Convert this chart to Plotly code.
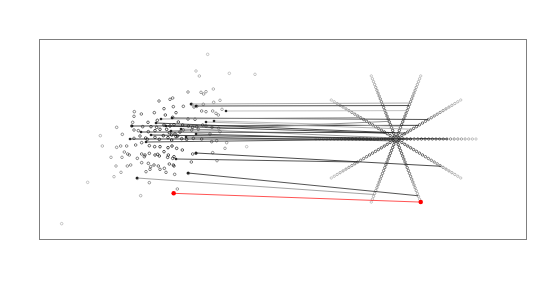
import numpy as np
import plotly.graph_objects as go

# Units: horizontal 0..1458 across the frame, vertical 0..597 top to bottom
cloud_x = [503,468,478,568,645,444,483,491,498,520,357,390,398,540,521,490,455,462,470,400,430,283,304,343,372,408,282,376,352,398,
           415,444,465,485,498,518,528,535,546,278,324,275,308,333,350,372,390,402,428,445,458,470,488,498,516,536,230,247,181,282,
           295,325,345,360,380,388,395,405,413,420,430,455,475,510,540,282,300,322,317,345,358,370,384,395,408,425,440,460,485,515,
           530,560,620,187,230,242,260,287,305,328,344,360,384,396,410,427,458,468,518,555,213,246,253,263,268,292,305,315,328,313,
           345,353,358,372,385,383,398,402,454,531,228,262,272,305,325,332,342,355,373,388,400,402,222,243,318,330,360,378,404,445,
           292,328,143,412,302,65]
cloud_y = [43,93,108,100,103,156,157,162,155,147,183,178,174,181,187,193,193,201,199,200,199,215,222,218,206,218,229,225,241,232,
           246,237,238,213,215,213,220,225,208,247,247,258,260,260,262,255,258,254,255,258,262,260,255,258,262,265,262,283,287,270,
           272,275,272,268,268,278,285,282,288,276,270,270,268,282,275,295,288,298,294,292,298,287,293,300,290,296,298,295,297,305,
           302,308,320,318,322,318,318,315,308,317,320,320,323,318,325,330,342,340,338,325,352,352,336,342,345,355,342,345,340,350,
           345,343,348,335,345,352,355,350,366,362,378,378,375,368,370,380,375,378,385,372,375,378,410,397,395,388,388,397,403,400,
           415,428,427,447,467,551]

star_center = (1068, 297)
star_radius_x = 240
star_radius_y = 199
arm_angles_deg = [0, 36, 72, 108, 144, 180, 216, 252, 288, 324]
arm_steps = np.linspace(0.045, 1.0, 22)

link_start_x = [453,468,396,276,393,363,498,333,423,378,303,438,522,348,468,270,408,468,444,291,318,558,401]
link_start_y = [192,198,234,258,273,237,246,285,267,258,276,291,243,249,282,297,357,339,399,414,306,213,460]
link_arm = [2,2,1,1,3,4,1,0,0,4,3,9,2,1,5,0,6,9,8,7,0,2,8]
link_frac = [0.57,0.53,0.50,0.35,0.28,0.55,0.25,0.65,0.30,0.15,0.10,0.05,0.20,0.15,0.30,0.20,0.59,0.70,0.90,0.88,0.10,0.45,1.0]
link_grey = [150,30,40,20,120,140,160,20,130,30,40,60,170,30,50,20,40,30,40,140,40,180,0]
highlight_index = 22

fig = go.Figure()

cx, cy = np.mean(cloud_x), np.mean(cloud_y)
d = np.hypot(np.array(cloud_x) - cx, np.array(cloud_y) - cy)
cloud_op = np.clip(0.95 - d / 320, 0.25, 0.9)
fig.add_trace(go.Scatter(x=cloud_x, y=cloud_y, mode="markers",
                         marker=dict(symbol="circle-open", size=2.6, color="black",
                                     opacity=cloud_op, line=dict(width=0.8)),
                         hoverinfo="skip", showlegend=False))

def arm_point(arm, frac):
    a = np.deg2rad(arm_angles_deg[arm])
    return (star_center[0] + star_radius_x * frac * np.cos(a),
            star_center[1] - star_radius_y * frac * np.sin(a))

sx, sy, so = [], [], []
for k in range(len(arm_angles_deg)):
    for t in arm_steps:
        px, py = arm_point(k, t)
        sx.append(px); sy.append(py); so.append(0.85 - 0.6 * t ** 1.5)
fig.add_trace(go.Scatter(x=sx, y=sy, mode="markers",
                         marker=dict(symbol="circle-open", size=2.4, color="black",
                                     opacity=so, line=dict(width=0.8)),
                         hoverinfo="skip", showlegend=False))

for i in range(len(link_start_x)):
    ex, ey = arm_point(link_arm[i], link_frac[i])
    if i == highlight_index:
        col = "rgba(255,0,0,0.85)"
    else:
        g = link_grey[i]
        col = f"rgb({g},{g},{g})"
    fig.add_trace(go.Scatter(x=[link_start_x[i], ex], y=[link_start_y[i], ey], mode="lines",
                             line=dict(color=col, width=0.8), hoverinfo="skip", showlegend=False))

dark_idx = [i for i in range(len(link_start_x)) if i != highlight_index]
fig.add_trace(go.Scatter(x=[link_start_x[i] for i in dark_idx], y=[link_start_y[i] for i in dark_idx],
                         mode="markers", marker=dict(size=2.6, color="rgba(20,20,20,0.9)"),
                         hoverinfo="skip", showlegend=False))
hx0, hy0 = link_start_x[highlight_index], link_start_y[highlight_index]
hx1, hy1 = arm_point(link_arm[highlight_index], link_frac[highlight_index])
fig.add_trace(go.Scatter(x=[hx0, hx1], y=[hy0, hy1], mode="markers",
                         marker=dict(size=4.5, color="red"), hoverinfo="skip", showlegend=False))

fig.update_layout(width=545, height=287, margin=dict(l=32, r=27, t=32, b=56),
                  paper_bgcolor="white", plot_bgcolor="white")
fig.update_xaxes(range=[0, 1458], showgrid=False, zeroline=False, showticklabels=False,
                 ticks="", showline=True, mirror=True, linecolor="#7f7f7f", linewidth=1)
fig.update_yaxes(range=[597, 0], showgrid=False, zeroline=False, showticklabels=False,
                 ticks="", showline=True, mirror=True, linecolor="#7f7f7f", linewidth=1)
fig.write_html("out.html")
